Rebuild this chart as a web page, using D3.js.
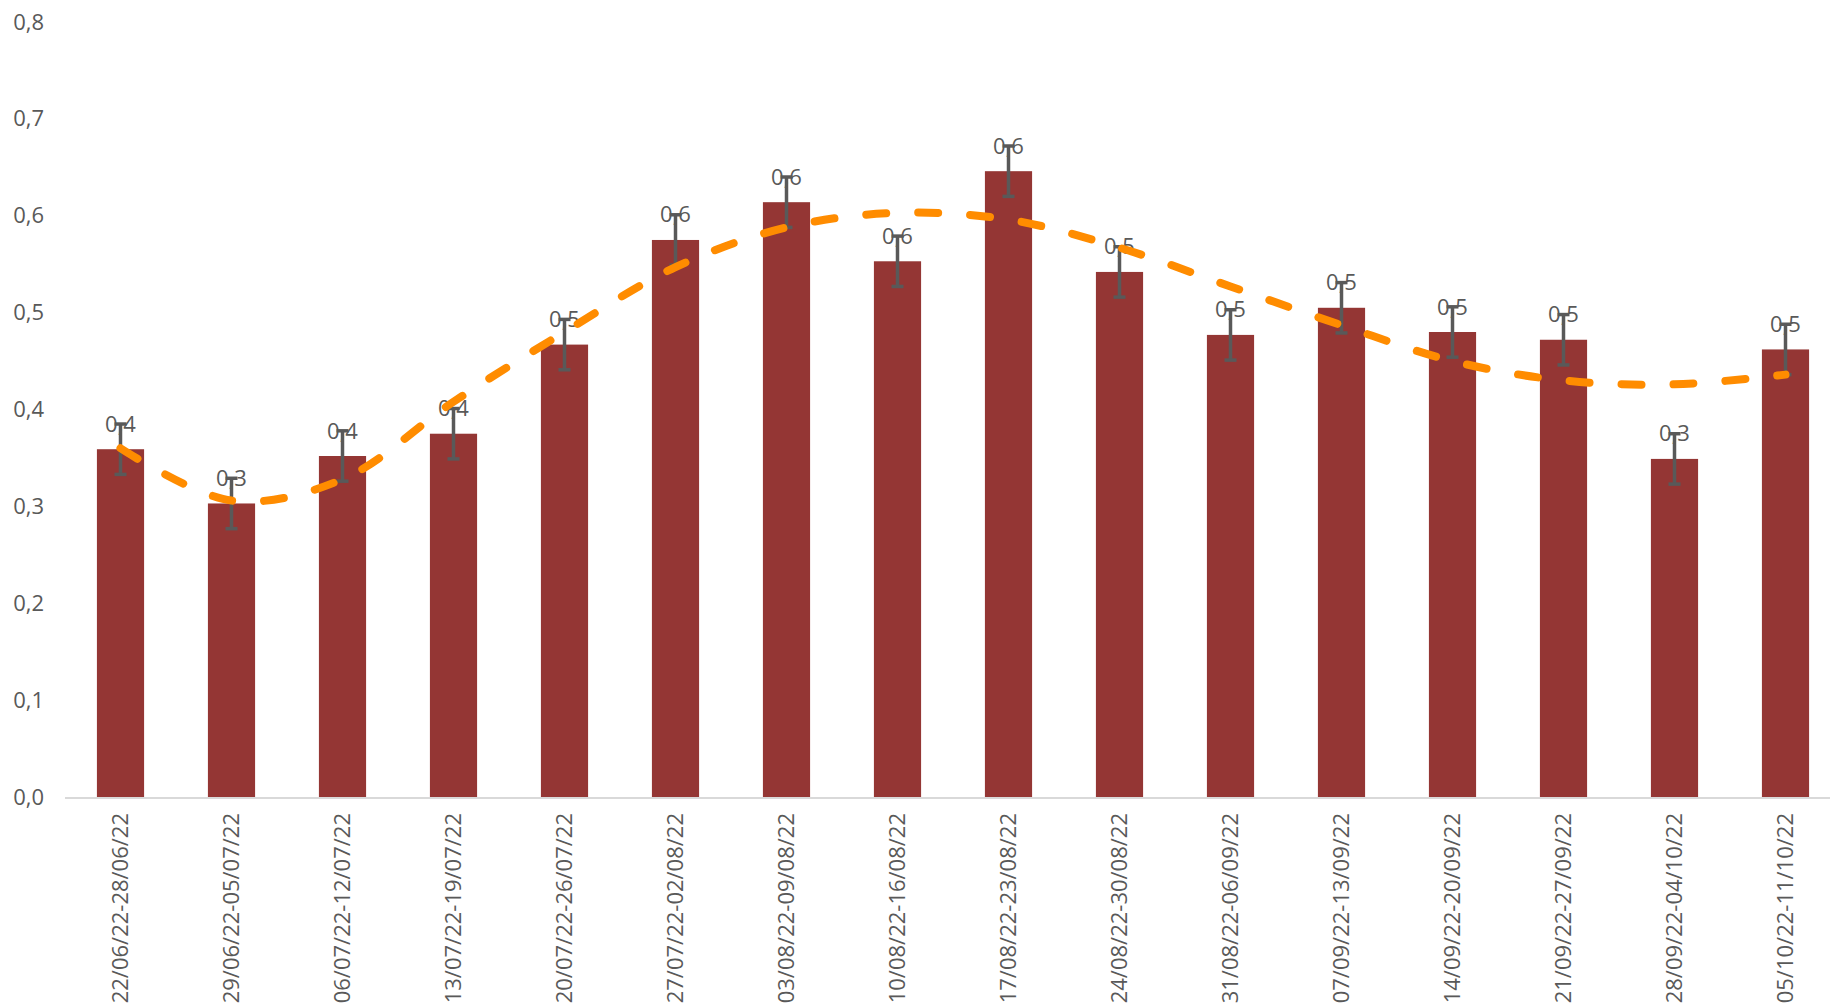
<!DOCTYPE html>
<html><head><meta charset="utf-8">
<script src="https://cdnjs.cloudflare.com/ajax/libs/d3/7.8.5/d3.min.js"></script>
<style>html,body{margin:0;padding:0;background:#fff;}svg{display:block;}</style>
</head><body>
<svg id="chart" width="1830" height="1004"></svg>
<script>
const categories = ["22/06/22-28/06/22","29/06/22-05/07/22","06/07/22-12/07/22","13/07/22-19/07/22","20/07/22-26/07/22","27/07/22-02/08/22","03/08/22-09/08/22","10/08/22-16/08/22","17/08/22-23/08/22","24/08/22-30/08/22","31/08/22-06/09/22","07/09/22-13/09/22","14/09/22-20/09/22","21/09/22-27/09/22","28/09/22-04/10/22","05/10/22-11/10/22"];
const values = [0.359,0.303,0.352,0.375,0.467,0.575,0.614,0.553,0.646,0.542,0.477,0.505,0.480,0.472,0.349,0.462];
const errors = [0.026,0.026,0.026,0.026,0.026,0.026,0.026,0.026,0.026,0.026,0.026,0.026,0.026,0.026,0.026,0.026];
const trend = [0.360,0.306,0.328,0.408,0.480,0.547,0.588,0.603,0.596,0.567,0.527,0.487,0.450,0.430,0.426,0.436];
const yTicks = [0,0.1,0.2,0.3,0.4,0.5,0.6,0.7,0.8];

const svg = d3.select("#chart");
const font = "'Open Sans', sans-serif";
const txt = "#595959";
const loc = d3.formatLocale({decimal:",", thousands:".", grouping:[3], currency:["","€"]});
const f1 = loc.format(".1f");

const x = d3.scaleBand().domain(categories).range([65, 1841]).paddingInner(0.575).paddingOuter(0.2875);
const y = d3.scaleLinear().domain([0, 0.8]).range([797, 22]);

// y axis labels
const yAxis = svg.append("g").attr("transform","translate(44,0)")
  .call(d3.axisLeft(y).tickValues(yTicks).tickFormat(f1).tickSize(0).tickPadding(0));
yAxis.select(".domain").remove();
yAxis.selectAll("text").attr("font-family",font).attr("font-size",22).attr("fill",txt);

// bars
svg.append("g").selectAll("rect").data(values).join("rect")
  .attr("x",(d,i)=>x(categories[i]))
  .attr("y",d=>y(d))
  .attr("width",x.bandwidth())
  .attr("height",d=>y(0)-y(d))
  .attr("fill","#943634");

// x axis
const xAxis = svg.append("g").attr("transform","translate(0,798)")
  .call(d3.axisBottom(x).tickSize(0).tickPadding(0));
xAxis.select(".domain").attr("stroke","#d9d9d9").attr("stroke-width",2)
  .attr("d","M65,0H1830");
xAxis.selectAll("text").attr("font-family",font).attr("font-size",22).attr("fill",txt)
  .attr("text-anchor","end").attr("transform","translate(0,15) rotate(-90)")
  .attr("dy","0.35em").attr("dx","0").attr("y",0).attr("x",0);

// data labels
svg.append("g").selectAll("text").data(values).join("text")
  .attr("x",(d,i)=>x(categories[i])+x.bandwidth()/2)
  .attr("y",(d,i)=>y(d+errors[i]))
  .attr("dy","0.35em")
  .attr("text-anchor","middle")
  .attr("font-family",font).attr("font-size",22).attr("fill",txt)
  .text(d=>f1(d));

// error bars
const eg = svg.append("g").attr("stroke","#595959").attr("stroke-width",3.5);
values.forEach((v,i)=>{
  const cx = x(categories[i])+x.bandwidth()/2;
  const t = y(v+errors[i]), b = y(v-errors[i]);
  eg.append("line").attr("x1",cx).attr("x2",cx).attr("y1",t).attr("y2",b);
  eg.append("line").attr("x1",cx-6).attr("x2",cx+6).attr("y1",t).attr("y2",t);
  eg.append("line").attr("x1",cx-6).attr("x2",cx+6).attr("y1",b).attr("y2",b);
});

// trend line
const line = d3.line()
  .x((d,i)=>x(categories[i])+x.bandwidth()/2)
  .y(d=>y(d))
  .curve(d3.curveCatmullRom.alpha(0.5));
svg.append("path").datum(trend)
  .attr("d",line)
  .attr("fill","none")
  .attr("stroke","#ff8c00")
  .attr("stroke-width",8)
  .attr("stroke-linecap","round")
  .attr("stroke-dasharray","20,32");
</script>
</body></html>
